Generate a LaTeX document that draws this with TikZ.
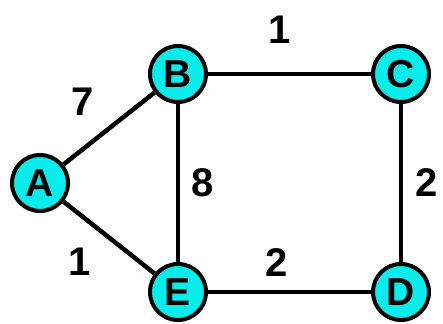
\documentclass[tikz,border=0pt]{standalone}
\usepackage{fontspec}
\setmainfont{Liberation Sans}
\definecolor{nodecyan}{RGB}{10,236,236}
\begin{document}
\begin{tikzpicture}[x=1pt,y=-1pt,
  vtx/.style={circle,draw=black,line width=4pt,fill=nodecyan,minimum size=56pt,inner sep=0pt,font=\fontsize{39}{39}\selectfont\bfseries},
  edge/.style={line width=4pt,draw=black},
  wt/.style={font=\fontsize{40}{40}\selectfont\bfseries,inner sep=0pt}]
\useasboundingbox (0,0) rectangle (443,323);
\node[vtx] (A) at (40,183) {A};
\node[vtx] (B) at (178,74) {B};
\node[vtx] (C) at (401,74) {C};
\node[vtx] (E) at (178,292) {E};
\node[vtx] (D) at (401,292) {D};
\draw[edge,line width=4.5pt] (A) -- (B);
\draw[edge,line width=4.5pt] (A) -- (E);
\draw[edge,line width=3.5pt] (B) -- (C);
\draw[edge,line width=3.5pt] (B) -- (E);
\draw[edge,line width=3.5pt] (C) -- (D);
\draw[edge,line width=3.5pt] (E) -- (D);
\node[wt] (w1) at (83,102) {7};
\node[wt] (w2) at (280,30) {1};
\node[wt] (w3) at (203,183) {8};
\node[wt] (w4) at (427,183) {2};
\node[wt] (w5) at (277,263) {2};
\node[wt] (w6) at (80,262) {1};
\end{tikzpicture}
\end{document}
